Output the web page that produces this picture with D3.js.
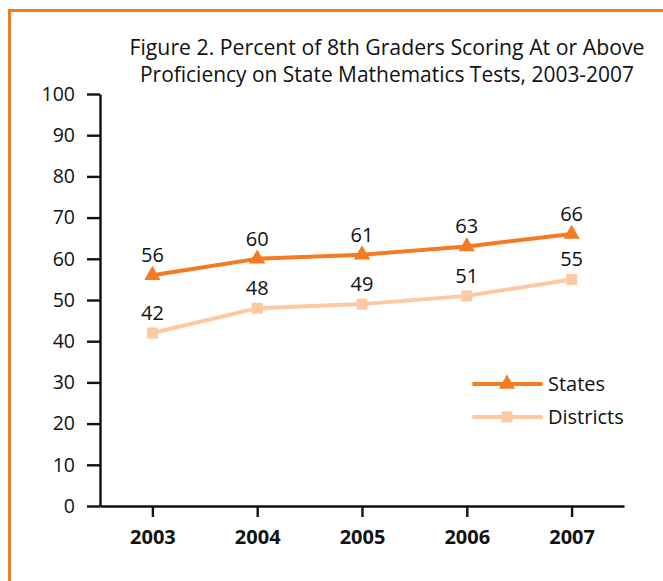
<!DOCTYPE html>
<html>
<head>
<meta charset="utf-8">
<script src="https://cdn.jsdelivr.net/npm/d3@7"></script>
<style>
  html, body { margin: 0; padding: 0; background: #fff; }
  svg { display: block; font-family: "Open Sans", sans-serif; }
</style>
</head>
<body>
<svg id="chart" width="663" height="581"></svg>
<script>
const years = ["2003", "2004", "2005", "2006", "2007"];
const states = [56, 60, 61, 63, 66];
const districts = [42, 48, 49, 51, 55];
const yTicks = [0, 10, 20, 30, 40, 50, 60, 70, 80, 90, 100];
const titleLines = ["Figure 2. Percent of 8th Graders Scoring At or Above",
                    "Proficiency on State Mathematics Tests, 2003-2007"];
const seriesNames = ["States", "Districts"];

const svg = d3.select("#chart");
const orange = "#F47B20", peach = "#FCC9A2";

// frame
svg.append("path")
  .attr("d", "M9.5,700 L9.5,10.5 L700,10.5")
  .attr("fill", "none").attr("stroke", orange).attr("stroke-width", 3);

const x = d3.scalePoint().domain(years).range([100, 624]).padding(0.5);
const y = d3.scaleLinear().domain([0, 100]).range([506, 94]);

// title
svg.append("g").selectAll("text").data(titleLines).join("text")
  .attr("x", 387).attr("y", (d, i) => 55 + i * 27)
  .attr("text-anchor", "middle").attr("font-size", 21).attr("fill", "#111")
  .attr("textLength", (d, i) => i === 0 ? 515 : 494).attr("lengthAdjust", "spacingAndGlyphs")
  .text(d => d);

// y axis
const yAxis = svg.append("g").attr("transform", "translate(100,0)")
  .call(d3.axisLeft(y).tickValues(yTicks).tickSize(13).tickPadding(12).tickSizeOuter(0));
yAxis.select(".domain").attr("stroke", "#111").attr("stroke-width", 2.4);
yAxis.selectAll(".tick line").attr("stroke", "#111").attr("stroke-width", 2.4);
yAxis.selectAll(".tick text").attr("font-size", 19.5).attr("fill", "#111")
  .attr("font-family", "'Open Sans', sans-serif");

// x axis
const xAxis = svg.append("g").attr("transform", "translate(0,506)")
  .call(d3.axisBottom(x).tickSize(11).tickPadding(13).tickSizeOuter(0));
xAxis.select(".domain").attr("stroke", "#111").attr("stroke-width", 2.4);
xAxis.selectAll(".tick line").attr("stroke", "#111").attr("stroke-width", 2.4);
xAxis.selectAll(".tick text").attr("font-size", 20).attr("font-weight", "bold").attr("fill", "#111")
  .attr("font-family", "'Open Sans', sans-serif");

const line = d3.line().x((d, i) => x(years[i])).y(d => y(d));

function drawSeries(vals, color, symType, symSize) {
  svg.append("path").datum(vals).attr("d", line)
    .attr("fill", "none").attr("stroke", color).attr("stroke-width", 4);
  svg.append("g").selectAll("path").data(vals).join("path")
    .attr("transform", (d, i) => `translate(${x(years[i])},${y(d)})`)
    .attr("d", d3.symbol().type(symType).size(symSize)).attr("fill", color);
  svg.append("g").selectAll("text").data(vals).join("text")
    .attr("x", (d, i) => x(years[i])).attr("y", d => y(d) - 13)
    .attr("text-anchor", "middle").attr("font-size", 20).attr("fill", "#111")
    .text(d => d);
}
drawSeries(districts, peach, d3.symbolSquare, 121);
drawSeries(states, orange, d3.symbolTriangle, 115);

// legend
const legend = [{ name: seriesNames[0], color: orange, sym: d3.symbolTriangle, size: 115, y: 384 },
                { name: seriesNames[1], color: peach, sym: d3.symbolSquare, size: 121, y: 417 }];
const lg = svg.append("g").selectAll("g").data(legend).join("g")
  .attr("transform", d => `translate(0,${d.y})`);
lg.append("line").attr("x1", 474).attr("x2", 541)
  .attr("stroke", d => d.color).attr("stroke-width", 4).attr("stroke-linecap", "round");
lg.append("path").attr("transform", "translate(507,0)")
  .attr("d", d => d3.symbol().type(d.sym).size(d.size)()).attr("fill", d => d.color);
lg.append("text").attr("x", 548).attr("y", 7).attr("font-size", 20).attr("fill", "#111")
  .text(d => d.name);
</script>
</body>
</html>
